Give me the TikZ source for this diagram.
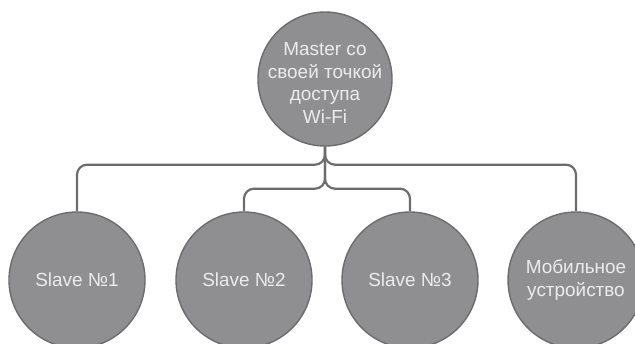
\documentclass[tikz,border=0pt]{standalone}
\usepackage{fontspec}
\setmainfont{Liberation Sans}
\definecolor{fillgray}{RGB}{143,143,146}
\definecolor{edgegray}{RGB}{108,108,111}
\definecolor{txtgray}{RGB}{236,236,236}
\begin{document}
\begin{tikzpicture}[x=1bp,y=-1bp,
  bubble/.style={circle,draw=edgegray,line width=1.4bp,fill=fillgray,
    minimum size=136bp,inner sep=0pt,text=txtgray,align=center,
    font=\fontsize{19}{23}\selectfont},
  conn/.style={draw=edgegray,line width=2.2bp,rounded corners=10bp}]
\useasboundingbox (0,0) rectangle (635,343);
\begin{scope}
\clip (0,0) rectangle (635,343);
\node[bubble,minimum size=134bp] (m) at (325,79) {};
\node[text=txtgray,align=center,font=\fontsize{19}{23}\selectfont] (mt) at (325,83) {Master со\\своей точкой\\доступа\\Wi-Fi};
\node[bubble] (s1) at (77,280) {Slave №1};
\node[bubble] (s2) at (244,280) {Slave №2};
\node[bubble] (s3) at (410,280) {Slave №3};
\node[bubble] (mob) at (576,280) {Мобильное\\устройство};
\end{scope}
\draw[conn] (m.south) -- ++(0,18) -| (s1.north);
\draw[conn] (m.south) -- ++(0,18) -| (mob.north);
\draw[conn] (m.south) -- ++(0,42) -| (s2.north);
\draw[conn] (m.south) -- ++(0,42) -| (s3.north);
\end{tikzpicture}
\end{document}
